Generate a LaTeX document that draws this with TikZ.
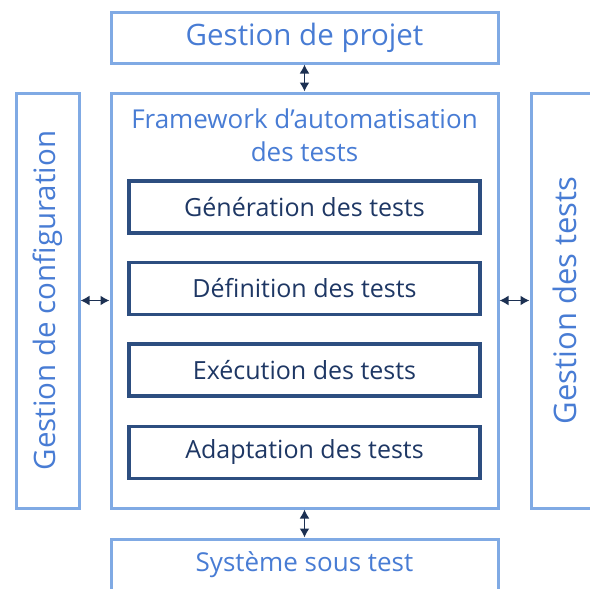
\documentclass[tikz,border=0pt]{standalone}
\usepackage{fontspec}
\setmainfont{Open Sans}
\usetikzlibrary{calc}
\usetikzlibrary{positioning}
\usetikzlibrary{arrows.meta}
\definecolor{lightline}{RGB}{128,170,228}
\definecolor{textblue}{RGB}{72,124,212}
\definecolor{navyline}{RGB}{45,78,128}
\definecolor{navytext}{RGB}{30,55,100}
\definecolor{arrowblue}{RGB}{28,48,82}
\tikzstyle{outerbox} = [draw=lightline, line width=3pt, rectangle, inner sep=0pt, text=textblue, align=center]
\tikzstyle{innerbox} = [draw=navyline, line width=3.5pt, rectangle, inner sep=0pt, minimum width=351pt, minimum height=52pt, text=navytext, font=\fontsize{25}{30}\selectfont]
\tikzstyle{linkarrow} = [draw=arrowblue, line width=1.6pt, {Latex[length=9pt,width=10pt]}-{Latex[length=9pt,width=10pt]}]

\begin{document}
\begin{tikzpicture}[x=1pt, y=-1pt]
\useasboundingbox (0,0) rectangle (590,589);
\begin{scope}
\clip (0,0) rectangle (590,589);
\node[outerbox, minimum width=387pt, minimum height=51pt, font=\fontsize{29.5}{34}\selectfont] (projet) at (304.5,37.5) {Gestion de projet};
\node[outerbox, minimum width=387pt, minimum height=415pt] (framework) at (304.5,300.5) {};
\node[outerbox, minimum width=387pt, minimum height=51pt, font=\fontsize{26}{30}\selectfont] (sut) at (304.5,564.5) {Système sous test};
\node[outerbox, minimum width=63pt, minimum height=415pt] (config) at (47.5,300.5) {};
\node[outerbox, minimum width=63pt, minimum height=415pt] (gtests) at (562.5,300.5) {};
\end{scope}

% textes verticaux
\node[text=textblue, rotate=90, font=\fontsize{29.5}{34}\selectfont] (config_label) at (config) {Gestion de configuration};
\node[text=textblue, rotate=90, font=\fontsize{31}{36}\selectfont] (gtests_label) at ($(gtests)+(2,0)$) {Gestion des tests};

% titre du framework
\node[text=textblue, align=center, font=\fontsize{26}{33}\selectfont, below=14pt of framework.north] (fw_title) {Framework d’automatisation\\des tests};

\node[innerbox] (generation) at (304.5,207) {Génération des tests};
\node[innerbox] (definition) at (304.5,288.5) {Définition des tests};
\node[innerbox] (execution) at (304.5,370) {Exécution des tests};
\node[innerbox] (adaptation) at (304.5,452.5) {Adaptation des tests};

\draw[linkarrow] (projet) -- (framework);
\draw[linkarrow] (framework) -- (sut);
\draw[linkarrow] (config) -- (framework);
\draw[linkarrow] (framework) -- (gtests);
\end{tikzpicture}
\end{document}
